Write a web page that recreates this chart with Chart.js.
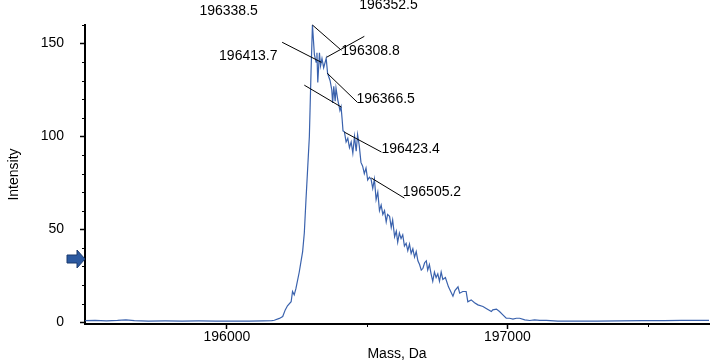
<!DOCTYPE html>
<html>
<head>
<meta charset="utf-8">
<script src="https://cdn.jsdelivr.net/npm/chart.js@4/dist/chart.umd.min.js"></script>
<style>
  body { margin: 0; background: #fff; }
  #wrap { width: 720px; height: 364px; }
</style>
</head>
<body>
<div id="wrap"><canvas id="chart1" width="720" height="364"></canvas></div>
<script>
const chart1 = document.getElementById('chart1');

// spectrum trace (mass in Da, intensity)
const masses = [195495, 195530, 195570, 195610, 195640, 195670, 195720, 195780, 195840, 195900,
  195960, 196020, 196080, 196130, 196160, 196169, 196187, 196199, 196208, 196216,
  196229, 196234, 196240, 196246, 196258, 196270, 196276, 196282, 196287, 196294,
  196300, 196305, 196312, 196318, 196321, 196324, 196330, 196334, 196339, 196345,
  196354, 196359, 196368, 196374, 196377, 196381, 196386, 196389, 196395, 196399,
  196403, 196407, 196411, 196414, 196419, 196425, 196431, 196437, 196443, 196449,
  196455, 196461, 196466, 196472, 196478, 196484, 196490, 196496, 196502, 196508,
  196514, 196520, 196526, 196532, 196538, 196544, 196550, 196556, 196562, 196568,
  196573, 196580, 196586, 196591, 196598, 196604, 196609, 196615, 196621, 196627,
  196633, 196639, 196645, 196651, 196657, 196663, 196669, 196675, 196681, 196687,
  196693, 196699, 196705, 196711, 196716, 196722, 196728, 196734, 196740, 196746,
  196752, 196758, 196764, 196770, 196779, 196790, 196806, 196813, 196824, 196830,
  196841, 196853, 196859, 196871, 196883, 196895, 196913, 196926, 196943, 196948,
  196961, 196972, 196984, 196996, 197008, 197020, 197032, 197044, 197062, 197080,
  197097, 197115, 197139, 197180, 197250, 197320, 197400, 197480, 197560, 197620,
  197680, 197719];
const intensities = [0.8, 1.0, 0.7, 0.9, 1.2, 0.8, 0.6, 0.7, 0.6, 0.7,
  0.6, 0.6, 0.6, 0.7, 0.8, 1.0, 2.0, 3.0, 6.6, 8.8,
  11, 16.5, 14.7, 18, 27, 38, 48, 66, 80, 100,
  135, 160, 144, 140, 145, 129, 145, 138, 142, 137,
  142, 134, 130, 125, 118, 127, 119, 126, 120, 117,
  114, 116, 109, 103, 102.5, 97, 99, 94, 97, 91,
  100, 92, 101, 95, 86, 84, 80, 83, 76.5, 78,
  77, 72, 77, 66, 70, 60, 63, 58, 60, 54,
  58, 57, 51, 55, 46, 49, 43, 48, 45, 47,
  41, 42.5, 38.5, 42, 37, 39.5, 35, 38, 33, 31,
  28, 29, 32, 33, 28, 31, 26, 22, 27, 24,
  26, 22, 27, 23, 24, 19, 14, 17, 19, 15.6,
  16.5, 16.5, 11, 12, 10.5, 9.3, 8.4, 7.2, 5.7, 6.6,
  7, 5.7, 3.9, 2.1, 2.1, 1.6, 2.1, 2.1, 1.2, 0.9,
  1.2, 1.0, 0.9, 0.6, 0.5, 0.6, 0.7, 0.8, 0.8, 1.0,
  0.9, 0.9];

// peak labels
const peakLabels = ['196338.5', '196352.5', '196413.7', '196308.8', '196366.5', '196423.4', '196505.2'];
const labelMass = [195902, 196472, 195972, 196408, 196462, 196551, 196627];
const labelIntensity = [167.4, 170.6, 143.2, 145.9, 120, 93.2, 70.1];

// leader lines
const leaderFromMass = [196305, 196355, 196197, 196358, 196276, 196419, 196515];
const leaderFromIntensity = [160, 142.6, 150.7, 134, 127.6, 102.3, 77.6];
const leaderToMass = [196408, 196490, 196337, 196465, 196408, 196551, 196633];
const leaderToIntensity = [146.4, 153.9, 139.9, 118.4, 115.8, 91.6, 66.8];

// axis ticks
const xMajorTicks = [196000, 197000];
const xMinorTicks = [196500, 197500];
const yMinorStep = 10;
const arrowLevel = 34;

const points = masses.map((m, i) => ({x: m, y: intensities[i]}));

const FONT = 'Liberation Sans, Arial, sans-serif';

const overlay = {
    id: 'overlay',
    afterDraw(chart) {
        const ctx = chart.ctx;
        const xs = chart.scales.x;
        const ys = chart.scales.y;
        const area = chart.chartArea;
        ctx.save();

        // minor ticks
        ctx.strokeStyle = '#000';
        ctx.lineWidth = 1;
        ctx.beginPath();
        for (let i = 0; i < xMinorTicks.length; i++) {
            const px = Math.round(xs.getPixelForValue(xMinorTicks[i])) + 0.5;
            ctx.moveTo(px, area.bottom);
            ctx.lineTo(px, area.bottom + 3);
        }
        for (let v = 0; v <= ys.max; v += yMinorStep) {
            if (v % 50 === 0) continue;
            const py = Math.round(ys.getPixelForValue(v)) + 0.5;
            ctx.moveTo(area.left, py);
            ctx.lineTo(area.left - 3, py);
        }
        ctx.stroke();

        // leader lines
        ctx.strokeStyle = '#000';
        ctx.lineWidth = 1;
        for (let i = 0; i < leaderFromMass.length; i++) {
            ctx.beginPath();
            ctx.moveTo(xs.getPixelForValue(leaderFromMass[i]), ys.getPixelForValue(leaderFromIntensity[i]));
            ctx.lineTo(xs.getPixelForValue(leaderToMass[i]), ys.getPixelForValue(leaderToIntensity[i]));
            ctx.stroke();
        }

        // labels
        ctx.fillStyle = '#000';
        ctx.font = '14px ' + FONT;
        ctx.textAlign = 'left';
        ctx.textBaseline = 'middle';
        for (let i = 0; i < peakLabels.length; i++) {
            ctx.fillText(peakLabels[i], xs.getPixelForValue(labelMass[i]), ys.getPixelForValue(labelIntensity[i]));
        }

        // blue marker arrow on the y axis
        const ay = ys.getPixelForValue(arrowLevel);
        const tip = area.left;
        ctx.beginPath();
        ctx.moveTo(tip, ay);
        ctx.lineTo(tip - 8, ay - 9);
        ctx.lineTo(tip - 8, ay - 4);
        ctx.lineTo(tip - 18, ay - 4);
        ctx.lineTo(tip - 18, ay + 4);
        ctx.lineTo(tip - 8, ay + 4);
        ctx.lineTo(tip - 8, ay + 9);
        ctx.closePath();
        ctx.fillStyle = '#2b59a0';
        ctx.fill();
        ctx.strokeStyle = '#1a3a6e';
        ctx.lineWidth = 1;
        ctx.stroke();

        ctx.restore();
    }
};

new Chart(chart1, {
    type: 'line',
    data: {
        datasets: [{
            data: points,
            borderColor: '#3a62ad',
            borderWidth: 1.2,
            pointRadius: 0,
            tension: 0,
            fill: false
        }]
    },
    options: {
        responsive: false,
        animation: false,
        events: [],
        layout: { padding: { top: 25, right: 11, left: 0, bottom: 0 } },
        plugins: { legend: { display: false }, tooltip: { enabled: false } },
        scales: {
            x: {
                type: 'linear',
                min: 195494,
                max: 197719,
                afterFit: (s) => { s.height = 40; },
                border: { display: true, color: '#000', width: 2 },
                grid: { drawOnChartArea: false, drawTicks: true, tickLength: 5, tickColor: '#000', tickWidth: 1.5 },
                afterBuildTicks: (s) => { s.ticks = xMajorTicks.map(v => ({value: v})); },
                ticks: {
                    color: '#000',
                    font: { family: FONT, size: 14 },
                    padding: 0,
                    maxRotation: 0,
                    callback: (v) => String(v)
                },
                title: {
                    display: true,
                    text: 'Mass, Da',
                    color: '#000',
                    font: { family: FONT, size: 14 },
                    padding: { top: 0, bottom: 1 }
                }
            },
            y: {
                min: -1,
                max: 160,
                afterFit: (s) => { s.width = 85; },
                border: { display: true, color: '#000', width: 2 },
                grid: { drawOnChartArea: false, drawTicks: true, tickLength: 5, tickColor: '#000', tickWidth: 1.5 },
                ticks: {
                    stepSize: 50,
                    includeBounds: false,
                    color: '#000',
                    font: { family: FONT, size: 14 },
                    padding: 16
                },
                title: {
                    display: true,
                    text: 'Intensity',
                    color: '#000',
                    font: { family: FONT, size: 14 },
                    padding: { top: 6, bottom: 0 }
                }
            }
        }
    },
    plugins: [overlay]
});
</script>
</body>
</html>
